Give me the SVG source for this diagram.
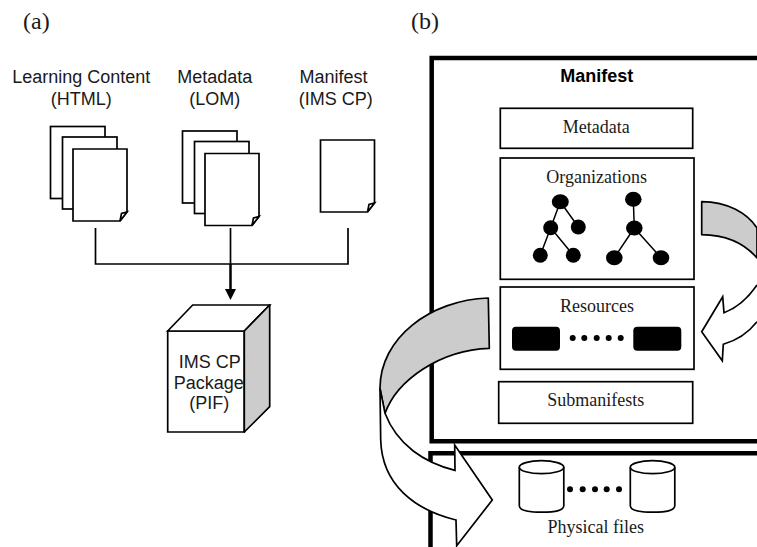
<svg xmlns="http://www.w3.org/2000/svg" xmlns:xlink="http://www.w3.org/1999/xlink" width="757" height="547" viewBox="0 0 757 547">
<style>
text{fill:#1a1a1a;text-anchor:middle}
.a{font-family:"Liberation Sans",Arial,sans-serif;font-size:18px}
.t{font-family:"Liberation Serif","Times New Roman",serif;font-size:18px}
.h{font-family:"Liberation Serif","Times New Roman",serif;font-size:24px;text-anchor:start}
.b{font-weight:bold;fill:#000}
.s{fill:#fff;stroke:#000;stroke-width:1.700}
.f{fill:none;stroke:#000;stroke-width:4.500}
.l{fill:none;stroke:#000;stroke-width:1.700}
.k{fill:#000;stroke:none}
.g{fill:#ccc;stroke:#000;stroke-width:1.700;stroke-linejoin:round}
.tl{stroke:#000;stroke-width:1.500;fill:none}
</style>
<defs>
<g id="page">
<path class="s" d="M0 0H54V63L47 72H0Z"/>
<path class="s" d="M54 63L47 72L48.500 64.500Z"/>
</g>
<g id="cyl">
<path class="s" d="M0 6.500V45Q0 51.500 22.300 51.500T44.500 45V6.500"/>
<ellipse class="s" cx="22.250" cy="6.500" rx="22.250" ry="6.500"/>
</g>
<marker id="ah" markerUnits="userSpaceOnUse" markerWidth="12" markerHeight="12" refX="0" refY="6" orient="auto">
<path d="M0 0.500L11 6L0 11.500Z" fill="#000"/>
</marker>
</defs>
<text class="h" x="23" y="29">(a)</text>
<text class="h" x="411" y="29">(b)</text>

<g id="learning-content">
<text class="a" x="81.300" y="83">Learning Content</text>
<text class="a" x="81.300" y="105">(HTML)</text>
<rect class="s" x="50.500" y="126.500" width="54.500" height="72"/>
<rect class="s" x="62.500" y="137" width="54.500" height="72"/>
<use href="#page" x="73" y="149"/>
</g>
<g id="metadata-lom">
<text class="a" x="214.700" y="83">Metadata</text>
<text class="a" x="214.700" y="105">(LOM)</text>
<rect class="s" x="182.500" y="131" width="54.500" height="72"/>
<rect class="s" x="194.500" y="141.500" width="54.500" height="72"/>
<use href="#page" x="205" y="153.500"/>
</g>
<g id="manifest-ims">
<text class="a" x="333.500" y="83">Manifest</text>
<text class="a" x="335.700" y="105">(IMS CP)</text>
<use href="#page" x="320.500" y="140"/>
</g>
<g id="package">
<path class="s" d="M167.700 331H244.300V432H167.700Z"/>
<path class="s" d="M167.700 331L192.700 305H269.700L244.300 331Z"/>
<path class="g" d="M244.300 331L269.700 305V406.700L244.300 432Z"/>
<text class="a" x="209.700" y="367.700">IMS CP</text>
<text class="a" x="208.700" y="389">Package</text>
<text class="a" x="209.300" y="409">(PIF)</text>
</g>

<g id="manifest-frame">
<path class="f" d="M757 58H431.700V441.300H757"/>
<text class="a b" x="596.700" y="81.700">Manifest</text>
</g>
<g id="physical-frame">
<path class="f" d="M757 453.300H430.500V547"/>
</g>
<g id="metadata">
<rect class="s" x="500.300" y="108.300" width="192.400" height="40"/>
<text class="t" x="596.300" y="133">Metadata</text>
</g>
<g id="organizations">
<rect class="s" x="500.300" y="158" width="193.700" height="121.300"/>
<text class="t" x="596.700" y="182.700">Organizations</text>
<path class="tl" d="M560.300 201.700L550.700 227.700L540.300 255.300M560.300 201.700L578.300 227M550.700 227.700L573.300 255.300M633.300 199.300L634.300 228L614.300 257.700M634.300 228L661 257.700"/>
<ellipse class="k" cx="560.300" cy="201.700" rx="8.500" ry="7.500"/>
<ellipse class="k" cx="550.700" cy="227.700" rx="7.500" ry="7.500"/>
<ellipse class="k" cx="578.300" cy="227" rx="7.500" ry="7.500"/>
<ellipse class="k" cx="540.300" cy="255.300" rx="7.500" ry="7.500"/>
<ellipse class="k" cx="573.300" cy="255.300" rx="7.500" ry="7.500"/>
<ellipse class="k" cx="633.300" cy="199.300" rx="8.300" ry="7.500"/>
<ellipse class="k" cx="634.300" cy="228" rx="8.300" ry="7.500"/>
<ellipse class="k" cx="614.300" cy="257.700" rx="8.300" ry="7.500"/>
<ellipse class="k" cx="661" cy="257.700" rx="8.300" ry="7.500"/>
</g>
<g id="resources">
<rect class="s" x="500.300" y="287" width="193.700" height="82.300"/>
<text class="t" x="597" y="311.700">Resources</text>
<rect class="k" x="512" y="326.700" width="48" height="24" rx="4"/>
<rect class="k" x="633.300" y="326.700" width="48" height="24" rx="4"/>
<circle class="k" cx="572.700" cy="338" r="3"/>
<circle class="k" cx="584.300" cy="338" r="3"/>
<circle class="k" cx="596.700" cy="338" r="3"/>
<circle class="k" cx="608.700" cy="338" r="3"/>
<circle class="k" cx="620.700" cy="338" r="3"/>
</g>
<g id="submanifests">
<rect class="s" x="498.700" y="381.700" width="194" height="41.600"/>
<text class="t" x="595.700" y="405.700">Submanifests</text>
</g>
<g id="physical-files">
<use href="#cyl" x="519.300" y="460.700"/>
<use href="#cyl" x="630.300" y="460.700"/>
<circle class="k" cx="570" cy="489.300" r="3"/>
<circle class="k" cx="582.700" cy="489.300" r="3"/>
<circle class="k" cx="595" cy="489.300" r="3"/>
<circle class="k" cx="606.700" cy="489.300" r="3"/>
<circle class="k" cx="619" cy="489.300" r="3"/>
<text class="t" x="595.700" y="532.700">Physical files</text>
</g>

<g id="connectors">
<path class="l" d="M95.500 228V264H348V228"/>
<path class="l" d="M230.500 228V264"/>
<path fill="none" stroke="#000" stroke-width="2.500" d="M230.500 264V289" marker-end="url(#ah)"/>
<path class="g" d="M701.700 201.700C728 202 747 213 757 228V258C744 243 725 235 701.700 234.700Z"/>
<path class="s" d="M757 285C748 298 737 308 724 312.700L722.700 296.700L701.700 331.700L722.300 360.700L723.300 344.300C738 340 749 332 757 321.700"/>
<path class="g" d="M488.300 298C430 300 380 338 380 388.300L385 413.300C397 380 440 350 489.300 348.300Z"/>
<path class="s" d="M380 388.300L380.700 440C382 485 415 510 456 520L456.700 545.700L492.300 500L454.700 445L455 470.300C425 463 397 445 385 413.300Z"/>
</g>
</svg>
